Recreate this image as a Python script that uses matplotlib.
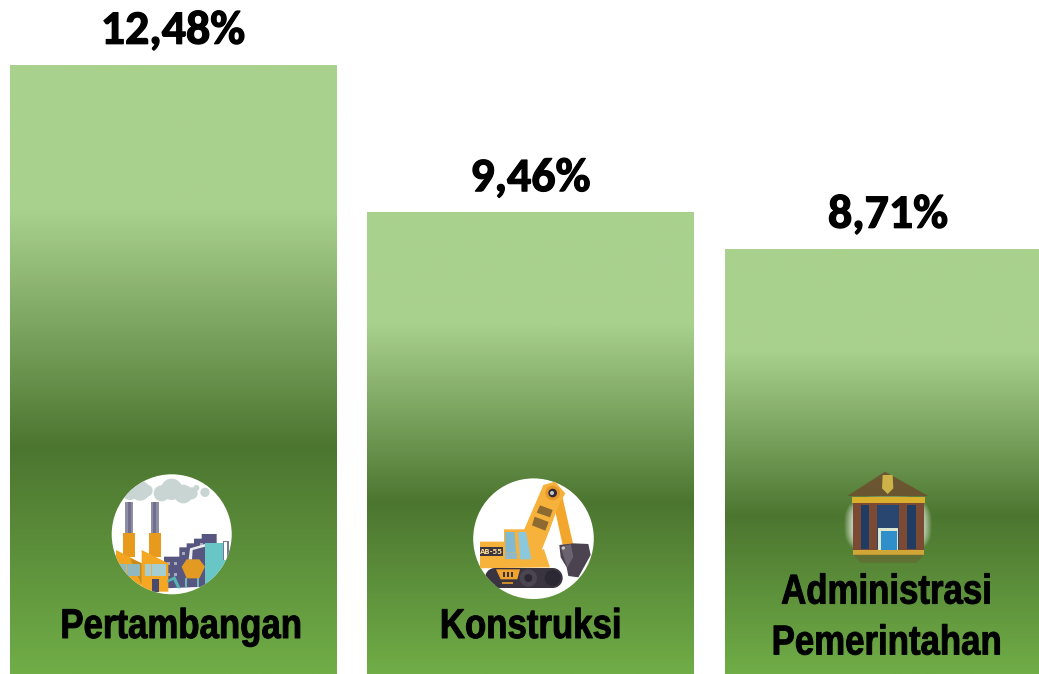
import numpy as np
import matplotlib
matplotlib.use("Agg")
import matplotlib.pyplot as plt
import matplotlib.patheffects as pe
from matplotlib.colors import LinearSegmentedColormap
from matplotlib.patches import Circle, Polygon
from matplotlib.transforms import Affine2D

categories = ["Pertambangan", "Konstruksi", "Administrasi\nPemerintahan"]
values = [12.48, 9.46, 8.71]
value_labels = ["12,48%", "9,46%", "8,71%"]

W, H = 1039, 674
fig = plt.figure(figsize=(W / 100, H / 100), dpi=100)
ax = fig.add_axes([0, 0, 1, 1])
ax.axis("off")


class Narrow(pe.AbstractPathEffect):
    # no narrow bold font installed, so squeeze each line around its centre
    def __init__(self, sx, lw=0.7):
        super().__init__()
        self.sx = sx
        self.lw = lw

    def draw_path(self, renderer, gc, tpath, affine, rgbFace=None):
        xs = tpath.vertices[:, 0]
        xc = (xs.min() + xs.max()) / 2
        t = Affine2D().translate(-xc, 0).scale(self.sx, 1).translate(xc, 0) + affine
        gc0 = renderer.new_gc()
        gc0.copy_properties(gc)
        gc0.set_linewidth(self.lw)
        gc0.set_foreground("black")
        renderer.draw_path(gc0, tpath, t, rgbFace)
        gc0.restore()


# bars first, then the gradient gets clipped to each of them
grad = LinearSegmentedColormap.from_list(
    "g", [(0, "#A9D18E"), (0.24, "#A9D18E"), (0.63, "#4C7630"), (1, "#70AD47")])
ramp = np.linspace(0, 1, 512).reshape(-1, 1)
bars = ax.bar(range(3), values, width=0.913, color="#70AD47")
for b in bars:
    x0, w, h = b.get_x(), b.get_width(), b.get_height()
    im = ax.imshow(ramp, cmap=grad, aspect="auto", extent=[x0, x0 + w, 0, h],
                   origin="upper", zorder=2, vmin=0, vmax=1)
    im.set_clip_path(b)
ax.set_xlim(-0.4835, 2.4225)
ax.set_ylim(0, 13.81)

for i, v in enumerate(values):
    ax.text(i, v + 0.27, value_labels[i], ha="center", va="bottom", zorder=5,
            family=["Carlito", "Lato", "DejaVu Sans"], fontweight="bold", fontsize=34.5, color="black",
            path_effects=[pe.withStroke(linewidth=0.9, foreground="black")])

# overlay in pixel coords for the little icons
ov = fig.add_axes([0, 0, 1, 1], zorder=3)
ov.axis("off")
ov.patch.set_alpha(0)


def pts(origin, p):
    return [(origin[0] + a / 3, origin[1] + b / 3) for a, b in p]


def poly(origin, p, color, clip=None, z=4, alpha=1):
    g = Polygon(pts(origin, p), closed=True, fc=color, ec="none", zorder=z, alpha=alpha)
    ov.add_patch(g)
    if clip is not None:
        g.set_clip_path(clip)
    return g


def box(origin, x0, y0, x1, y1, color, clip=None, z=4):
    return poly(origin, [(x0, y0), (x1, y0), (x1, y1), (x0, y1)], color, clip, z)


def circ(origin, x, y, r, color, clip=None, z=4):
    g = Circle((origin[0] + x / 3, origin[1] + y / 3), r / 3, fc=color, ec="none", zorder=z)
    ov.add_patch(g)
    if clip is not None:
        g.set_clip_path(clip)
    return g


# factory
o = (90, 460)
c1 = Circle((171.7, 534.3), 60, fc="white", ec="none", zorder=3)
ov.add_patch(c1)
for cx, cy, r in [(150, 92, 30), (120, 95, 25), (170, 92, 18), (215, 100, 24), (245, 88, 32),
                  (280, 102, 28), (305, 100, 18), (345, 97, 14), (319, 84, 9)]:
    circ(o, cx, cy, r, "#C9D5D2", c1)
for a, b in [(105, 130), (182, 207)]:
    box(o, a, 125, b, 222, "#8E8EA6", c1)
    box(o, a + 8, 125, b - 8, 222, "#6F6F8C", c1)
    box(o, a - 5, 220, b + 5, 292, "#E89A1C", c1)
poly(o, [(222, 290), (268, 290), (268, 262), (290, 262), (290, 250), (312, 250), (312, 236), (335, 236),
         (335, 222), (380, 222), (380, 250), (350, 380), (222, 385)], "#565680", c1)
for wx, wy in [(232, 305), (252, 305), (275, 275), (232, 340), (252, 340), (330, 250), (345, 270), (345, 300), (345, 330)]:
    box(o, wx, wy, wx + 9, wy + 9, "#A8A8BC", c1)
poly(o, [(78, 270), (155, 310), (155, 395), (78, 395)], "#F0A420", c1)
poly(o, [(155, 270), (235, 310), (235, 395), (155, 395)], "#F3A722", c1)
poly(o, [(120, 295), (155, 310), (155, 375)], "#C98A1C", c1)
box(o, 88, 312, 150, 348, "#8FB9BF", c1)
box(o, 165, 312, 228, 348, "#A5CDD2", c1)
for gx in [108, 128, 183, 200, 215]:
    box(o, gx, 312, gx + 2, 348, "#E6B14A", c1)
box(o, 88, 329, 228, 331, "#E6B14A", c1)
box(o, 186, 358, 206, 395, "#4A4A6E", c1)
box(o, 345, 250, 410, 395, "#69C6C6", c1)
box(o, 398, 242, 416, 300, "#7A7A96", c1)
box(o, 403, 247, 412, 300, "#FFFFFF", c1)
poly(o, [(290, 298), (328, 298), (345, 320), (328, 355), (290, 355), (275, 320)], "#E29A22", c1)
box(o, 285, 355, 290, 380, "#6FB7B5", c1)
box(o, 322, 355, 327, 380, "#6FB7B5", c1)
poly(o, [(296, 298), (300, 265), (345, 252), (345, 260), (308, 270), (306, 298)], "#EDEDED", c1)
poly(o, [(232, 360), (255, 348), (272, 385), (262, 385), (250, 360), (232, 368)], "#58B4B2", c1)

# excavator
o = (440, 460)
c2 = Circle((533.5, 538.7), 60.3, fc="white", ec="none", zorder=3)
ov.add_patch(c2)
poly(o, [(336, 110), (366, 105), (400, 255), (368, 255)], "#F2A62C")
poly(o, [(252, 210), (310, 75), (345, 65), (376, 100), (356, 135), (328, 212), (305, 270), (262, 270)], "#F7B23B")
poly(o, [(300, 136), (338, 150), (330, 172), (290, 158)], "#8C6A30")
poly(o, [(284, 170), (326, 186), (316, 212), (276, 196)], "#8C6A30")
circ(o, 338, 99, 22, "#E6982A")
circ(o, 338, 99, 13, "#2F2B36")
circ(o, 336, 99, 6, "#C9C9D0")
poly(o, [(120, 245), (192, 245), (192, 208), (262, 208), (275, 270), (312, 268), (330, 322), (120, 325)], "#F7B23B")
box(o, 120, 262, 190, 287, "#3B3542")
ov.text(440 + 155 / 3, 460 + 275 / 3, "AB-55", color="#F7D58A", fontsize=5, fontweight="bold", ha="center", va="center", zorder=5)
poly(o, [(196, 216), (224, 216), (228, 278), (196, 278)], "#7FBAD0")
poly(o, [(234, 216), (258, 216), (274, 298), (240, 298)], "#8CC8DC")
box(o, 196, 280, 232, 298, "#8FB8C8")
# track with rounded ends
circ(o, 165, 354, 30, "#3A3440", c2)
circ(o, 338, 354, 30, "#3A3440", c2)
box(o, 165, 324, 338, 384, "#3A3440", c2)
poly(o, [(168, 328), (240, 328), (232, 358), (182, 358)], "#F0A42E", c2)
box(o, 190, 336, 194, 350, "#3A3440")
box(o, 202, 336, 206, 350, "#3A3440")
box(o, 214, 336, 218, 350, "#3A3440")
box(o, 185, 366, 220, 372, "#C98A2A", c2)
circ(o, 265, 354, 26, "#4A4550", c2)
circ(o, 265, 354, 12, "#2C2833", c2)
circ(o, 338, 354, 24, "#2C2833", c2)
poly(o, [(358, 255), (400, 250), (445, 252), (452, 285), (415, 352), (385, 348), (380, 322), (362, 292)], "#4B4450")
poly(o, [(362, 262), (392, 252), (400, 290), (382, 322)], "#6B6370")
circ(o, 370, 264, 5, "#CFC8C0")

# gedung, soft glow behind it
o = (770, 460)
yy, xx = np.mgrid[-1:1:200j, -1:1:200j]
glow = np.zeros((200, 200, 4))
glow[..., :3] = 1.0
glow[..., 3] = np.clip(1.5 - (np.abs(xx) ** 3 + np.abs(yy) ** 3) * 1.8, 0, 1) * 0.9
ov.imshow(glow, extent=[770 + 212 / 3, 770 + 492 / 3, 460 + 290 / 3, 460 + 100 / 3], aspect="auto", zorder=3)
poly(o, [(232, 108), (345, 35), (475, 108)], "#6E4A2C", alpha=0.8)
poly(o, [(338, 45), (368, 45), (370, 85), (353, 102), (336, 85)], "#CDB24A")
box(o, 246, 110, 466, 130, "#D9AF2E")
box(o, 250, 130, 462, 272, "#7C4A32")
box(o, 274, 135, 298, 268, "#203C62")
box(o, 322, 135, 388, 268, "#284670")
box(o, 412, 135, 438, 268, "#203C62")
box(o, 325, 205, 385, 275, "#DCE7D0")
box(o, 332, 212, 380, 270, "#2E8FCB")
box(o, 250, 270, 462, 284, "#D0A636")
poly(o, [(250, 284), (462, 284), (440, 308), (272, 308)], "#6B5E34", alpha=0.5)
ov.set_xlim(0, W)
ov.set_ylim(H, 0)

# category labels sit on top of everything
label_x = [181.5, 531, 887]
label_y = [627, 627, 618]
for i, name in enumerate(categories):
    ov.text(label_x[i], label_y[i], name, ha="center", va="center", zorder=6, color="black",
            family="Liberation Sans", fontweight="bold", fontsize=30, linespacing=1.35,
            path_effects=[Narrow(0.835)])

fig.savefig("out.png", dpi=100)
